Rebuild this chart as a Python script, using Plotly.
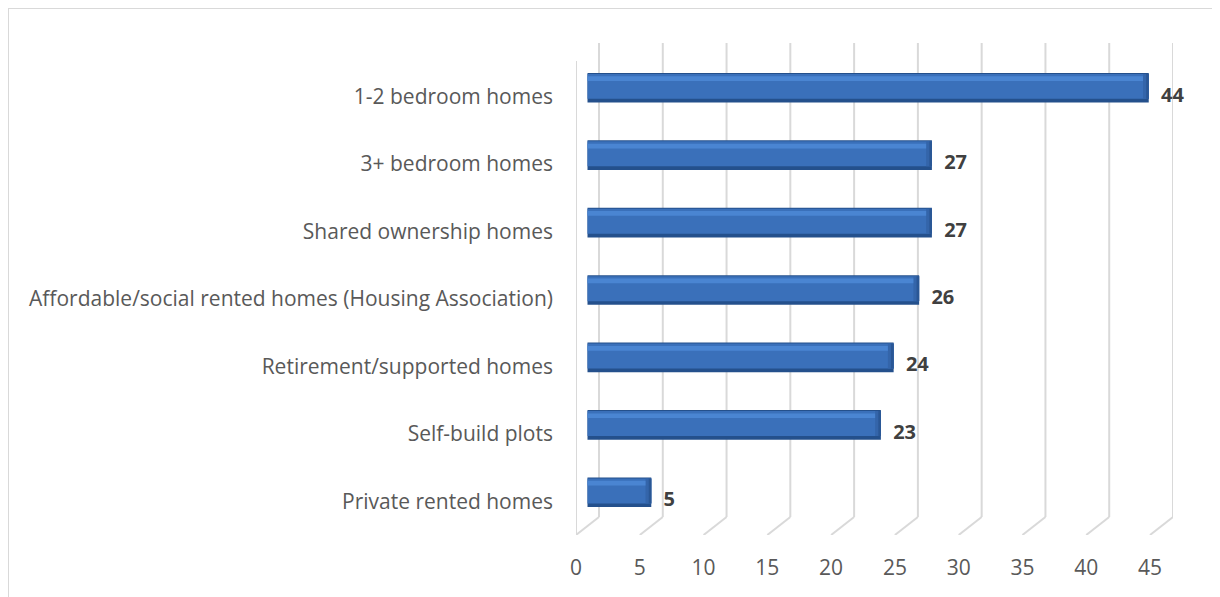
import plotly.graph_objects as go

categories = [
    "1-2 bedroom homes",
    "3+ bedroom homes",
    "Shared ownership homes",
    "Affordable/social rented homes (Housing Association)",
    "Retirement/supported homes",
    "Self-build plots",
    "Private rented homes",
]
values = [44, 27, 27, 26, 24, 23, 5]
x_ticks = [0, 5, 10, 15, 20, 25, 30, 35, 40, 45]

OFF = 8  # page body margin
W, H = 1220 - OFF, 597 - OFF
# plot box in pixels (figure coordinates)
PX_L, PX_R, PX_T, PX_B = 576 - OFF, 1173 - OFF, 43 - OFF, 535 - OFF
FRONT_MAX_PX = 1150 - OFF     # pixel of value 45 on the front plane
px_per_unit = (FRONT_MAX_PX - PX_L) / x_ticks[-1]
DX_PX, DY_PX = 23, 18         # 3D depth offset
DX = DX_PX / px_per_unit
X_RANGE = [0, (PX_R - PX_L) / px_per_unit]
cat_px = (PX_B - (PX_T + DY_PX + 2)) / len(categories)
DY = DY_PX / cat_px
Y_TOP = len(categories) - 0.5 - (PX_B - PX_T) / cat_px
Y_RANGE = [len(categories) - 0.5, Y_TOP]

grid = "#d9d9d9"
fig = go.Figure()

cap1, cap2 = 0.45, 0.2
common = dict(y=categories, orientation="h", xaxis="x2", yaxis="y2", showlegend=False)
# bar body
fig.add_trace(go.Bar(x=values, width=0.44, offset=-0.22,
                     marker=dict(color="#24508c", line=dict(width=0)), hoverinfo="skip", **common))
fig.add_trace(go.Bar(x=values, width=0.37, offset=-0.205,
                     marker=dict(color="#3a70ba", line=dict(width=0)), **common))
# rounded end shading
fig.add_trace(go.Bar(x=[cap1] * len(values), base=[v - cap1 for v in values], width=0.37, offset=-0.205,
                     marker=dict(color="#3465aa", line=dict(width=0)), hoverinfo="skip", **common))
fig.add_trace(go.Bar(x=[cap2] * len(values), base=[v - cap2 for v in values], width=0.37, offset=-0.205,
                     marker=dict(color="#2a5795", line=dict(width=0)), hoverinfo="skip", **common))
# top highlight
fig.add_trace(go.Bar(x=[v - cap1 for v in values], width=0.07, offset=-0.17,
                     marker=dict(color="#4a85d2", line=dict(width=0)), hoverinfo="skip", **common))
# value labels
fig.add_trace(go.Scatter(
    x=values, y=categories, mode="markers+text",
    marker=dict(size=18, color="rgba(0,0,0,0)"),
    text=[f"<b>{v}</b>" for v in values],
    textposition="middle right",
    textfont=dict(family="Open Sans", size=20, color="#404040"),
    xaxis="x2", yaxis="y", showlegend=False, hoverinfo="skip", cliponaxis=False,
))

shapes = []
y_back_bot = len(categories) - 0.5 - DY
for t in x_ticks:
    shapes.append(dict(type="line", xref="x", yref="y", x0=t + DX, x1=t + DX,
                       y0=Y_TOP, y1=y_back_bot, line=dict(color=grid, width=2), layer="below"))
    shapes.append(dict(type="line", xref="x", yref="y", x0=t + DX, x1=t,
                       y0=y_back_bot, y1=len(categories) - 0.5, line=dict(color=grid, width=2), layer="below"))
shapes.append(dict(type="line", xref="x", yref="y", x0=0, x1=0,
                   y0=Y_TOP + DY, y1=len(categories) - 0.5, line=dict(color=grid, width=2), layer="below"))
# chart border
shapes.append(dict(type="rect", xref="paper", yref="paper",
                   x0=(0 - PX_L) / (PX_R - PX_L), x1=(1218 - OFF - PX_L) / (PX_R - PX_L),
                   y0=(PX_B - 620) / (PX_B - PX_T), y1=(PX_B - 0) / (PX_B - PX_T),
                   line=dict(color="#d9d9d9", width=2)))

font_lbl = dict(family="Open Sans", size=21, color="#595959")
fig.update_layout(
    width=W, height=H,
    margin=dict(l=PX_L, r=W - PX_R, t=PX_T, b=H - PX_B),
    paper_bgcolor="white", plot_bgcolor="white",
    barmode="overlay",
    shapes=shapes,
    xaxis=dict(range=X_RANGE, tickvals=x_ticks, showgrid=False, zeroline=False,
               showline=False, tickfont=font_lbl, ticks="", ticklabelstandoff=18, fixedrange=True),
    yaxis=dict(range=Y_RANGE, categoryorder="array", categoryarray=categories, type="category",
               showgrid=False, zeroline=False, showline=False, tickfont=font_lbl, ticks="",
               ticklabelstandoff=22, fixedrange=True),
    xaxis2=dict(overlaying="x", range=[X_RANGE[0] - DX / 2, X_RANGE[1] - DX / 2], visible=False, fixedrange=True),
    yaxis2=dict(overlaying="y", range=[Y_RANGE[0] + DY / 2, Y_RANGE[1] + DY / 2], type="category",
                categoryorder="array", categoryarray=categories, visible=False, fixedrange=True),
)
fig.write_html("out.html")
